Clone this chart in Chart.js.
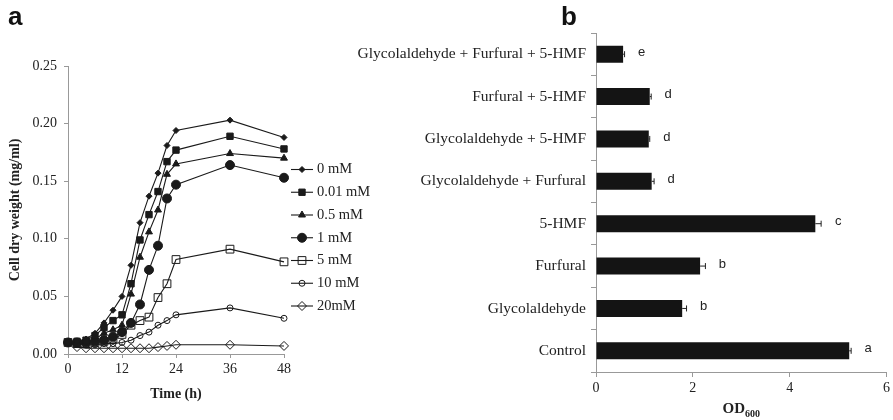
<!DOCTYPE html>
<html lang="en">
<head>
<meta charset="UTF-8">
<title>Cell dry weight and OD600</title>
<style>
  * {box-sizing:border-box;margin:0;padding:0;}
  body {background:#fff;width:893px;height:420px;overflow:hidden;position:relative;}
  .panel {position:absolute;top:0;height:420px;}
  #wrapA {left:0;width:380px;}
  #wrapB {left:350px;width:543px;}
  .tag {position:absolute;top:3px;font:bold 26px/26px 'Liberation Sans Narrow','Liberation Sans',sans-serif;color:#111;}
</style>
</head>
<body>
<div class="panel" id="wrapA"><canvas id="growth" width="380" height="420"></canvas></div>
<div class="panel" id="wrapB"><canvas id="od" width="543" height="420"></canvas></div>
<div class="tag" style="left:8px">a</div>
<div class="tag" style="left:561px">b</div>
<script src="https://cdn.jsdelivr.net/npm/chart.js@4.4.0/dist/chart.umd.min.js"></script>
<script>
// panel a: growth curves
const hours = [0, 2, 4, 6, 8, 10, 12, 14, 16, 18, 20, 22, 24, 36, 48];
const seriesNames = ['0 mM', '0.01 mM', '0.5 mM', '1 mM', '5 mM', '10 mM', '20mM'];
const c0   = [0.010, 0.011, 0.013, 0.018, 0.027, 0.038, 0.050, 0.077, 0.114, 0.137, 0.157, 0.181, 0.194, 0.203, 0.188];
const c001 = [0.010, 0.011, 0.012, 0.016, 0.023, 0.029, 0.034, 0.061, 0.099, 0.121, 0.141, 0.167, 0.177, 0.189, 0.178];
const c05  = [0.010, 0.008, 0.010, 0.013, 0.018, 0.021, 0.025, 0.052, 0.084, 0.106, 0.125, 0.156, 0.165, 0.174, 0.170];
const c1   = [0.010, 0.010, 0.010, 0.011, 0.012, 0.015, 0.019, 0.027, 0.043, 0.073, 0.094, 0.135, 0.147, 0.164, 0.153];
const c5   = [0.010, 0.009, 0.009, 0.010, 0.011, 0.013, 0.017, 0.025, 0.029, 0.032, 0.049, 0.061, 0.082, 0.091, 0.080];
const c10  = [0.010, 0.009, 0.008, 0.008, 0.009, 0.009, 0.010, 0.012, 0.016, 0.019, 0.025, 0.029, 0.034, 0.040, 0.031];
const c20  = [0.010, 0.006, 0.005, 0.005, 0.005, 0.005, 0.005, 0.005, 0.005, 0.005, 0.006, 0.007, 0.008, 0.008, 0.007];
const seriesValues = [c0, c001, c05, c1, c5, c10, c20];

// panel b: OD600 per treatment (top to bottom)
const treatments = ['Glycolaldehyde + Furfural + 5-HMF', 'Furfural + 5-HMF', 'Glycolaldehyde + 5-HMF',
  'Glycolaldehyde + Furfural', '5-HMF', 'Furfural', 'Glycolaldehyde', 'Control'];
const od600    = [0.56, 1.11, 1.09, 1.15, 4.53, 2.15, 1.78, 5.23];
const od600Err = [0.03, 0.03, 0.02, 0.05, 0.12, 0.11, 0.09, 0.04];
const letters  = ['e', 'd', 'd', 'd', 'c', 'b', 'b', 'a'];

const INK = '#1a1a1a';
const NONE = 'rgba(255,255,255,0)';
const markers = [
  {style: 'rectRot', r: 3, fill: INK},
  {style: 'rect', r: 4.5, fill: INK},
  {style: 'triangle', r: 4, fill: INK},
  {style: 'circle', r: 4.5, fill: INK},
  {style: 'rect', r: 5.5, fill: NONE},
  {style: 'circle', r: 3, fill: NONE},
  {style: 'rectRot', r: 4.5, fill: NONE}
];

Chart.defaults.font.family = "'Liberation Serif','Times New Roman',serif";
Chart.defaults.color = '#222';

const axisGrid = {drawOnChartArea: false, tickLength: 4, color: '#999'};

const legendLines = {
  id: 'legendLines',
  afterDraw(chart) {
    const {ctx, chartArea} = chart;
    const x0 = chartArea.right + 7, y0 = chartArea.top + 103.5, step = 22.75;
    chart.data.datasets.forEach((ds, i) => {
      const y = y0 + i * step;
      ctx.save();
      ctx.strokeStyle = INK; ctx.lineWidth = 1.1;
      ctx.beginPath(); ctx.moveTo(x0, y); ctx.lineTo(x0 + 22, y); ctx.stroke();
      ctx.fillStyle = ds.pointBackgroundColor; ctx.lineWidth = 1;
      Chart.helpers.drawPoint(ctx, {pointStyle: ds.pointStyle, radius: ds.pointRadius, rotation: 0, borderWidth: 1}, x0 + 11, y);
      ctx.fillStyle = '#222';
      ctx.font = "14.5px 'Liberation Serif'";
      ctx.textBaseline = 'middle'; ctx.textAlign = 'left';
      ctx.fillText(ds.label, x0 + 26, y);
      ctx.restore();
    });
  }
};

new Chart(document.getElementById('growth'), {
  type: 'line',
  data: {
    datasets: seriesValues.map((vals, i) => ({
      label: seriesNames[i],
      data: vals.map((v, j) => ({x: hours[j], y: v})),
      borderColor: INK, borderWidth: 1.1, tension: 0,
      pointStyle: markers[i].style, pointRadius: markers[i].r,
      pointBackgroundColor: markers[i].fill, pointBorderColor: INK, pointBorderWidth: 1,
      clip: false
    }))
  },
  options: {
    responsive: false, animation: false, devicePixelRatio: 1,
    layout: {padding: {top: 66, right: 96, left: 0, bottom: 0}},
    plugins: {legend: {display: false}, tooltip: {enabled: false}},
    scales: {
      x: {
        type: 'linear', min: 0, max: 48,
        ticks: {stepSize: 12, font: {size: 14}, padding: 3},
        grid: axisGrid, border: {color: '#999'},
        title: {display: true, text: 'Time (h)', font: {size: 14, weight: 'bold'}, padding: {top: 0, bottom: 17}},
        afterFit(s) { s.height = 66; }
      },
      y: {
        min: 0, max: 0.25,
        ticks: {stepSize: 0.05, font: {size: 14}, padding: 7, callback: v => v.toFixed(2)},
        grid: axisGrid, border: {color: '#999'},
        title: {display: true, text: 'Cell dry weight (mg/ml)', font: {size: 14, weight: 'bold'}, padding: {top: 7, bottom: 0}},
        afterFit(s) { s.width = 68; }
      }
    }
  },
  plugins: [legendLines]
});

const barExtras = {
  id: 'barExtras',
  afterDatasetsDraw(chart) {
    const {ctx, scales: {x, y}} = chart;
    ctx.save();
    ctx.strokeStyle = '#222'; ctx.lineWidth = 1;
    od600.forEach((v, i) => {
      const yc = y.getPixelForValue(i);
      const x0 = x.getPixelForValue(v), x1 = x.getPixelForValue(v + od600Err[i]);
      ctx.beginPath();
      ctx.moveTo(x0, yc); ctx.lineTo(x1, yc);
      ctx.moveTo(x1, yc - 3); ctx.lineTo(x1, yc + 3);
      ctx.stroke();
      ctx.fillStyle = '#222';
      ctx.font = "13px 'Liberation Sans', Arial, sans-serif";
      ctx.textAlign = 'center'; ctx.textBaseline = 'middle';
      ctx.fillText(letters[i], x1 + 17, yc - 2);
    });
    // OD600 axis title with subscript
    const cx = (x.left + x.right) / 2, base = x.bottom - 7;
    ctx.font = "bold 15px 'Liberation Serif'";
    const w1 = ctx.measureText('OD').width;
    ctx.font = "bold 10px 'Liberation Serif'";
    const w2 = ctx.measureText('600').width;
    ctx.textAlign = 'left'; ctx.textBaseline = 'alphabetic';
    ctx.font = "bold 15px 'Liberation Serif'";
    ctx.fillText('OD', cx - (w1 + w2) / 2, base);
    ctx.font = "bold 10px 'Liberation Serif'";
    ctx.fillText('600', cx - (w1 + w2) / 2 + w1, base + 4);
    ctx.restore();
  }
};

new Chart(document.getElementById('od'), {
  type: 'bar',
  data: {
    labels: treatments,
    datasets: [{data: od600, backgroundColor: '#141414', barPercentage: 0.4, categoryPercentage: 1}]
  },
  options: {
    indexAxis: 'y',
    responsive: false, animation: false, devicePixelRatio: 1,
    layout: {padding: {top: 33, right: 5, left: 0, bottom: 0}},
    plugins: {legend: {display: false}, tooltip: {enabled: false}},
    scales: {
      x: {
        min: 0, max: 6,
        ticks: {stepSize: 2, font: {size: 14}, padding: 3},
        grid: {drawOnChartArea: false, tickLength: 5, color: '#999'}, border: {color: '#999'},
        afterFit(s) { s.height = 48; }
      },
      y: {
        ticks: {font: {size: 15.5}, padding: 5},
        grid: {drawOnChartArea: false, tickLength: 5, color: '#999'}, border: {color: '#999'},
        afterFit(s) { s.width = 246; }
      }
    }
  },
  plugins: [barExtras]
});
</script>
</body>
</html>
